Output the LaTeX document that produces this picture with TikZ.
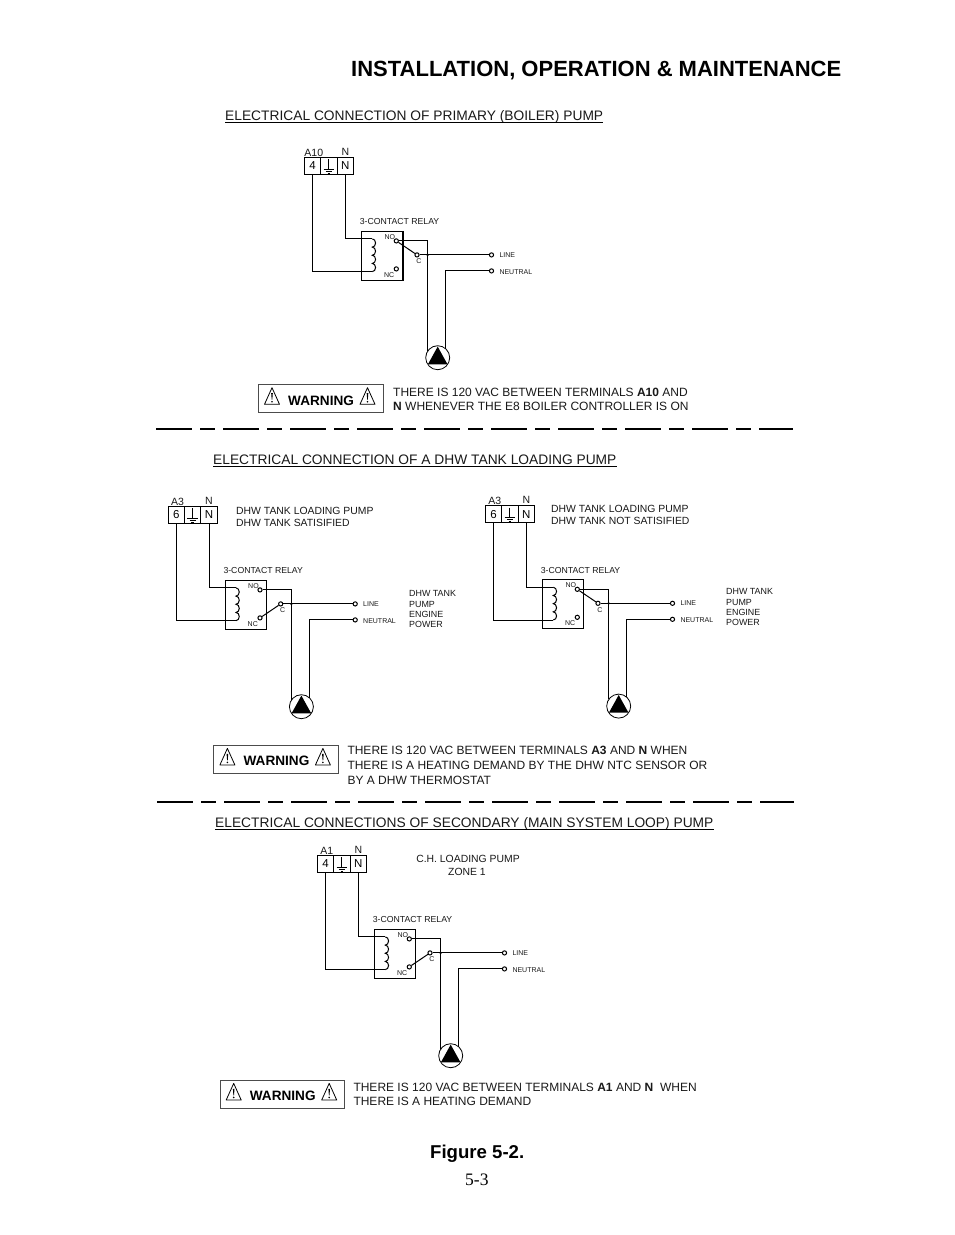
\documentclass[tikz,border=0pt]{standalone}
\usepackage{fontspec}
\setmainfont{Liberation Sans}
\newfontfamily\pagefont{Liberation Serif}
\newcommand{\fs}[1]{\fontsize{#1pt}{#1pt}\selectfont}
\tikzset{
  wire/.style={line width=1pt},
  txt/.style={anchor=base west,inner sep=0pt,text=black!90},
  heading/.style={txt,font=\fs{13.78}},
  warntxt/.style={txt,font=\fs{12}},
  sidetxt/.style={txt,font=\fs{10.4}},
  powertxt/.style={txt,font=\fs{8.9}},
  smalltxt/.style={txt,font=\fs{7}},
  relaytxt/.style={txt,font=\fs{8.7}},
  term/.style={draw,line width=1pt,minimum width=16.4pt,minimum height=17pt,inner sep=0pt,font=\fs{11.5}},
  relaybox/.style={draw,line width=1pt,minimum width=41pt,minimum height=49pt,inner sep=0pt},
  contact/.style={circle,draw,line width=1pt,fill=white,minimum size=4.2pt,inner sep=0pt},
  joint/.style={circle,fill=black,minimum size=2.6pt,inner sep=0pt},
  pumpc/.style={circle,draw,line width=0.8pt,fill=white,minimum size=24pt,inner sep=0pt},
  warnbox/.style={draw,line width=0.8pt,draw=black!70,minimum width=124.6pt,minimum height=28pt,inner sep=0pt},
  divider/.style={line width=1.7pt,dash pattern=on 36pt off 8pt on 15pt off 8pt},
  underl/.style={line width=0.8pt}
}
% name, x, y, number, upper label, arm end (no or nc)
\newcommand{\relaycircuit}[6]{
\begin{scope}[shift={(#2,#3)}]
\node[term] (#1-t1) at (8.2,-8.5) {#4};
\node[term] (#1-t2) at (24.6,-8.5) {};
\node[term] (#1-t3) at (41,-8.5) {N};
\draw[wire] (24.6,-15) -- (24.6,-5.3) (19.2,-5.3) -- (30,-5.3) (21.6,-3.3) -- (27.6,-3.3) (23.4,-1.3) -- (25.8,-1.3);
\node[txt,anchor=base,font=\fs{10.5}] (#1-top) at (9.5,-18.3) {#5};
\node[txt,anchor=base,font=\fs{10.5}] (#1-topn) at (41,-18.8) {N};
\node[relaybox] (#1-relay) at (77.5,81.5) {};
\node[relaytxt] (#1-rl) at (55.3,50.4) {3-CONTACT RELAY};
\coordinate (#1-ca) at (68,64.6);
\coordinate (#1-cb) at (68,97.3);
\draw[wire] (#1-t1.south) |- (#1-cb);
\draw[wire] (#1-t3.south) |- (#1-ca);
\draw[wire,x=0.8pt] (#1-ca) arc[start angle=-90,end angle=90,radius=4.09]
  arc[start angle=-90,end angle=90,radius=4.09]
  arc[start angle=-90,end angle=90,radius=4.09]
  arc[start angle=-90,end angle=90,radius=4.09];
\node[contact] (#1-no) at (92,66.6) {};
\node[contact] (#1-nc) at (92,94.6) {};
\node[contact] (#1-c) at (112.7,80.6) {};
\node[smalltxt] (#1-nol) at (80,65) {NO};
\node[smalltxt] (#1-ncl) at (79.5,103) {NC};
\node[smalltxt] (#1-cl) at (111.8,89.4) {C};
\node[contact] (#1-line) at (187.2,80.6) {};
\node[contact] (#1-neu) at (187.2,96.6) {};
\node[smalltxt] (#1-ll) at (195,83.2) {LINE};
\node[smalltxt] (#1-nl) at (195,100) {NEUTRAL};
\node[pumpc] (#1-pump) at (133.4,183.4) {};
\fill (133.4,172.3) -- (143.2,190) -- (123.6,190) -- cycle;
\coordinate (#1-pa) at (123.4,176.7);
\coordinate (#1-pb) at (141.4,174.5);
\draw[wire] (#1-#6) -- (#1-c);
\draw[wire] (#1-c) -- (#1-line);
\draw[wire] (#1-no) -| (#1-pa);
\draw[wire] (#1-neu) -| (#1-pb);
\node[joint] (#1-j) at (123.4,80.6) {};
\end{scope}
}
% warning sign at its left end
\newcommand{\warnsign}[2]{
\draw[line width=0.8pt,line join=round] (#1,#2) -- ++(7.5,16.6) -- ++(-15,0) -- cycle;
\fill (#1-0.8,#2+5.5) -- (#1+0.8,#2+5.5) -- (#1+0.3,#2+12) -- (#1-0.3,#2+12) -- cycle;
\fill (#1,#2+14) circle (0.9);
}
\newcommand{\warnpanel}[3]{
\node[warnbox] (#1) at (#2+62.3,#3+14) {};
\node[txt,text=black,font=\bfseries\fs{13.6}] (#1-txt) at (#2+29.7,#3+20.7) {WARNING};
\warnsign{#2+13.7}{#3+3.4}
\warnsign{#2+109.2}{#3+3.4}
}
\begin{document}
\begin{tikzpicture}[x=1pt,y=-1pt]
\useasboundingbox[fill=white] (0,0) rectangle (954,1235);
\node[anchor=base west,inner sep=0pt,font=\bfseries\fs{22}] (title) at (351,76) {INSTALLATION, OPERATION \& MAINTENANCE};

\node[heading] (h1) at (225,120.2) {ELECTRICAL CONNECTION OF PRIMARY (BOILER) PUMP};
\draw[underl] ([yshift=-2pt]h1.base west) -- ([yshift=-2pt]h1.base east);
\relaycircuit{a}{304.3}{174.3}{4}{A10}{no}
\draw[line width=1.6pt] (a-relay.north east) -- (a-relay.south east);
\warnpanel{wa}{258.3}{384.3}
\node[warntxt] (wa1) at (393,396.2) {THERE IS 120 VAC BETWEEN TERMINALS \textbf{A10} AND};
\node[warntxt] (wa2) at (393,410.4) {\textbf{N} WHENEVER THE E8 BOILER CONTROLLER IS ON};
\draw[divider] (156,429) -- (793,429);

\node[heading] (h2) at (213,464.4) {ELECTRICAL CONNECTION OF A DHW TANK LOADING PUMP};
\draw[underl] ([yshift=-2pt]h2.base west) -- ([yshift=-2pt]h2.base east);
\relaycircuit{b}{168}{523.3}{6}{A3}{nc}
\node[sidetxt] (b1) at (236,514) {DHW TANK LOADING PUMP};
\node[sidetxt] (b2) at (236,526) {DHW TANK SATISIFIED};
\node[powertxt] (b3) at (409,596.7) {DHW TANK};
\node[powertxt] (b4) at (409,607) {PUMP};
\node[powertxt] (b5) at (409,617.3) {ENGINE};
\node[powertxt] (b6) at (409,627.7) {POWER};
\relaycircuit{c}{485.3}{522.7}{6}{A3}{no}
\node[sidetxt] (c1) at (551,512) {DHW TANK LOADING PUMP};
\node[sidetxt] (c2) at (551,524) {DHW TANK NOT SATISIFIED};
\node[powertxt] (c3) at (726,594.3) {DHW TANK};
\node[powertxt] (c4) at (726,605) {PUMP};
\node[powertxt] (c5) at (726,615.3) {ENGINE};
\node[powertxt] (c6) at (726,625.7) {POWER};
\warnpanel{wb}{213.7}{745}
\node[warntxt] (wb1) at (347.3,754.5) {THERE IS 120 VAC BETWEEN TERMINALS \textbf{A3} AND \textbf{N} WHEN};
\node[warntxt] (wb2) at (347.3,769) {THERE IS A HEATING DEMAND BY THE DHW NTC SENSOR OR};
\node[warntxt] (wb3) at (347.3,784) {BY A DHW THERMOSTAT};
\draw[divider] (157,802) -- (794,802);

\node[heading] (h3) at (215,827.2) {ELECTRICAL CONNECTIONS OF SECONDARY (MAIN SYSTEM LOOP) PUMP};
\draw[underl] ([yshift=-2pt]h3.base west) -- ([yshift=-2pt]h3.base east);
\relaycircuit{d}{317.3}{872.3}{4}{A1}{nc}
\node[sidetxt,anchor=base] (d1) at (468,862.7) {C.H. LOADING PUMP};
\node[sidetxt,anchor=base] (d2) at (467,875.7) {ZONE 1};
\warnpanel{wc}{220}{1080}
\node[warntxt] (wc1) at (353.3,1091.7) {THERE IS 120 VAC BETWEEN TERMINALS \textbf{A1} AND \textbf{N}\ \ WHEN};
\node[warntxt] (wc2) at (353.3,1105.7) {THERE IS A HEATING DEMAND};

\node[anchor=base west,inner sep=0pt,font=\bfseries\fs{18.6}] (fig) at (430,1158.8) {Figure 5-2.};
\node[anchor=base west,inner sep=0pt,font=\pagefont\fs{17.5}] (page) at (465,1185) {5-3};
\end{tikzpicture}
\end{document}
